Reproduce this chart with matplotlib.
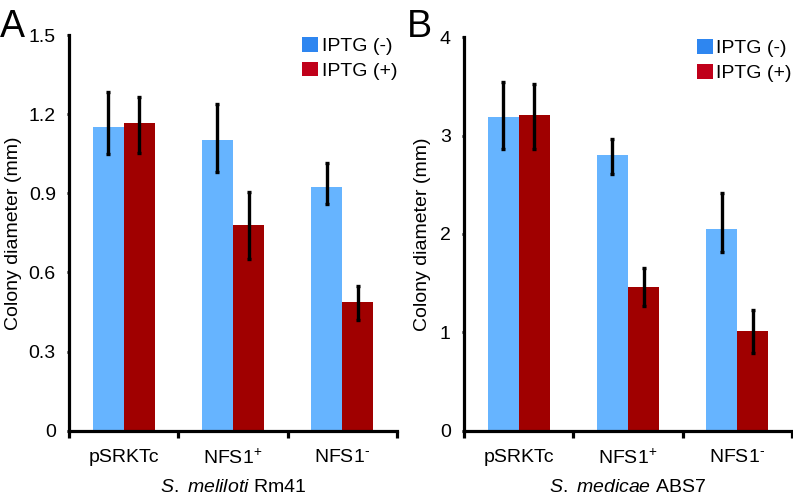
import matplotlib
matplotlib.use("Agg")
import matplotlib.pyplot as plt
from matplotlib.patches import Patch
import numpy as np

plt.rcParams['font.family'] = ['Liberation Sans', 'DejaVu Sans']
plt.rcParams['mathtext.fontset'] = 'custom'
plt.rcParams['mathtext.rm'] = 'Liberation Sans'
plt.rcParams['mathtext.it'] = 'Liberation Sans:italic'

categories = [r"pSRKTc", r"NFS1$^{\text{+}}$", r"NFS1$^{\text{-}}$"]
series_names = ["IPTG (-)", "IPTG (+)"]

# Panel A: S. meliloti Rm41
a_minus = [1.153, 1.103, 0.923]
a_minus_lo = [0.103, 0.122, 0.065]
a_minus_hi = [0.130, 0.137, 0.091]
a_plus = [1.166, 0.779, 0.486]
a_plus_lo = [0.112, 0.127, 0.068]
a_plus_hi = [0.099, 0.125, 0.062]
a_ticks = [0, 0.3, 0.6, 0.9, 1.2, 1.5]
a_ticklabels = ["0", "0.3", "0.6", "0.9", "1.2", "1.5"]

# Panel B: S. medicae ABS7
b_minus = [3.19, 2.80, 2.05]
b_minus_lo = [0.33, 0.19, 0.23]
b_minus_hi = [0.36, 0.17, 0.37]
b_plus = [3.21, 1.465, 1.017]
b_plus_lo = [0.35, 0.195, 0.23]
b_plus_hi = [0.32, 0.187, 0.211]
b_ticks = [0, 1, 2, 3, 4]
b_ticklabels = ["0", "1", "2", "3", "4"]

bar_blue = "#66B4FF"
bar_red = "#A00000"
leg_blue = "#2E86F0"
leg_red = "#C0001A"

W, H = 793, 497
fig = plt.figure(figsize=(W / 100, H / 100), dpi=100)

def px_axes(left, top, right, bottom):
    return fig.add_axes([left / W, 1 - bottom / H, (right - left) / W, (bottom - top) / H])

axA = px_axes(69, 35, 397, 430.7)
axB = px_axes(464, 37.3, 792, 430.7)

def draw(ax, minus, mlo, mhi, plus, plo, phi, ticks, ticklabels, ymax, xlabel, ylabelpad):
    x = np.arange(len(categories))
    w = 0.285
    ax.bar(x - w / 2, minus, width=w, color=bar_blue, zorder=2)
    ax.bar(x + w / 2, plus, width=w, color=bar_red, zorder=2)
    ax.errorbar(x - w / 2, minus, yerr=[mlo, mhi], fmt='none', ecolor='black',
                elinewidth=2.4, capsize=1.5, capthick=2.4, zorder=3)
    ax.errorbar(x + w / 2, plus, yerr=[plo, phi], fmt='none', ecolor='black',
                elinewidth=2.4, capsize=1.5, capthick=2.4, zorder=3)
    ax.set_xlim(-0.5, len(categories) - 0.5)
    ax.set_ylim(0, ymax)
    for s in ['top', 'right']:
        ax.spines[s].set_visible(False)
    for s in ['left', 'bottom']:
        ax.spines[s].set_linewidth(2.3)
    ax.set_yticks(ticks)
    ax.set_yticklabels(ticklabels, fontsize=14)
    ax.tick_params(axis='y', length=1.5, width=2, pad=8, direction='out')
    ax.set_xticks(x)
    ax.set_xticklabels(categories, fontsize=14)
    ax.tick_params(axis='x', which='major', length=0, pad=13)
    ax.set_xticks(np.arange(len(categories) + 1) - 0.5, minor=True)
    ax.tick_params(axis='x', which='minor', length=5, width=2.3, direction='out')
    ax.set_xlabel(xlabel, fontsize=14, labelpad=8)
    ax.set_ylabel("Colony diameter (mm)", fontsize=14, labelpad=ylabelpad)
    handles = [Patch(facecolor=leg_blue, edgecolor='none'),
               Patch(facecolor=leg_red, edgecolor='none')]
    ax.legend(handles, series_names, loc='upper right', bbox_to_anchor=(1.0, 0.995),
              frameon=False, fontsize=14, handlelength=0.8, handleheight=0.8,
              handletextpad=0.2, labelspacing=0.33, borderpad=0, borderaxespad=0)

draw(axA, a_minus, a_minus_lo, a_minus_hi, a_plus, a_plus_lo, a_plus_hi,
     a_ticks, a_ticklabels, 1.5, r"$\it{S.\ meliloti}$ Rm41", 5)
draw(axB, b_minus, b_minus_lo, b_minus_hi, b_plus, b_plus_lo, b_plus_hi,
     b_ticks, b_ticklabels, 4, r"$\it{S.\ medicae}$ ABS7", 6.5)

fig.text(0 / W, 1 - 37 / H, "A", fontsize=27, ha='left', va='baseline')
fig.text(407 / W, 1 - 37 / H, "B", fontsize=27, ha='left', va='baseline')

fig.savefig("out.png", dpi=100)
